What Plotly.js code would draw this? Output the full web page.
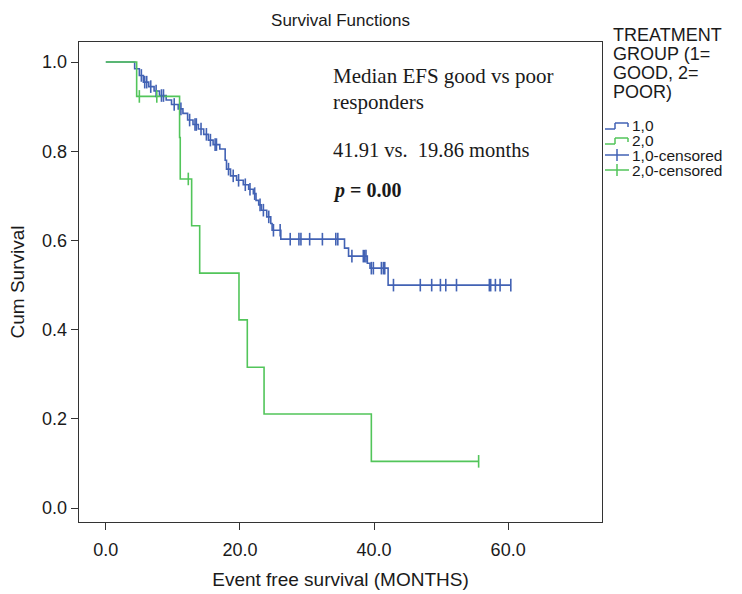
<!DOCTYPE html>
<html><head><meta charset="utf-8">
<script src="https://cdn.plot.ly/plotly-3.0.1.min.js"></script>
<style>html,body{margin:0;padding:0;background:#fff}#chart{width:742px;height:594px}</style>
</head><body><div id="chart"></div>
<script>
// Good responders (group 1,0): event step function
const goodTimes = [0, 4.3, 5.0, 5.6, 6.4, 7.2, 8.0, 9.0, 9.8, 10.8, 11.5, 12.2, 13.0, 13.8, 14.6, 15.3, 16.0, 17.0, 17.8, 18.0, 18.6, 19.5, 20.5, 21.3, 22.0, 22.4, 22.8, 23.2, 24.0, 24.6, 24.8, 26.1, 35.6, 36.2, 39.0, 39.4, 42.1, 60.4];
const goodSurv  = [1.0, 0.985, 0.970, 0.955, 0.945, 0.935, 0.925, 0.915, 0.905, 0.895, 0.885, 0.870, 0.860, 0.850, 0.838, 0.825, 0.815, 0.805, 0.780, 0.760, 0.745, 0.735, 0.725, 0.715, 0.705, 0.690, 0.680, 0.668, 0.653, 0.638, 0.623, 0.603, 0.583, 0.565, 0.549, 0.538, 0.500, 0.500];
const goodCensTimes = [5.3, 5.8, 6.1, 6.7, 7.5, 8.3, 8.6, 10.2, 11.2, 12.5, 13.3, 13.5, 14.2, 15.0, 15.6, 16.3, 16.5, 18.3, 19.0, 19.8, 20.8, 21.5, 22.2, 23.0, 23.5, 24.3, 25.0, 26.0, 27.5, 28.8, 29.1, 30.4, 32.3, 34.3, 34.6, 36.7, 38.4, 38.6, 38.8, 39.6, 39.9, 41.1, 41.4, 41.6, 42.9, 46.9, 48.6, 49.9, 50.7, 52.3, 57.2, 57.4, 58.1, 58.8, 60.4];
// Poor responders (group 2,0)
const poorTimes = [0, 4.6, 11.0, 11.1, 12.8, 14.0, 19.86, 21.1, 23.6, 39.6, 55.6];
const poorSurv  = [1.0, 0.923, 0.831, 0.738, 0.633, 0.527, 0.422, 0.316, 0.211, 0.105, 0.105];
const poorCensTimes = [5.0, 7.6, 12.3, 55.6];

const xTickVals = [0, 20, 40, 60];
const yTickVals = [0, 0.2, 0.4, 0.6, 0.8, 1.0];
const legendTitle = ['TREATMENT', 'GROUP (1=', 'GOOD, 2=', 'POOR)'];
const legendItems = ['1,0', '2,0', '1,0-censored', '2,0-censored'];

const blue = '#4262b4', green = '#52c55a';

function survAt(times, surv, t) {
  let s = surv[0];
  for (let i = 0; i < times.length; i++) { if (times[i] <= t) s = surv[i]; }
  return s;
}

const traces = [
  {x: goodTimes, y: goodSurv, mode: 'lines', line: {shape: 'hv', color: blue, width: 1.6}, name: legendItems[0], showlegend: false},
  {x: poorTimes, y: poorSurv, mode: 'lines', line: {shape: 'hv', color: green, width: 1.6}, name: legendItems[1], showlegend: false},
  {x: goodCensTimes, y: goodCensTimes.map(t => survAt(goodTimes, goodSurv, t)), mode: 'markers',
   marker: {symbol: 'line-ns', size: 9, line: {color: blue, width: 1.6}}, name: legendItems[2], showlegend: false},
  {x: poorCensTimes, y: poorCensTimes.map(t => survAt(poorTimes, poorSurv, t)), mode: 'markers',
   marker: {symbol: 'line-ns', size: 9, line: {color: green, width: 1.6}}, name: legendItems[3], showlegend: false}
];

const L = 79, R = 602, T = 42, B = 522;
const px = v => (v - L) / (R - L);
const py = v => (B - v) / (B - T);

const ann = [];
function txt(text, x, y, size, family) {
  ann.push({text: text, xref: 'paper', yref: 'paper', x: px(x), y: py(y), xanchor: 'left', yanchor: 'middle',
    showarrow: false, font: {family: family, size: size, color: '#1a1a1a'}});
}
const sans = 'Liberation Sans, Arial, sans-serif';
const serif = 'Liberation Serif, Times New Roman, serif';
const titleY = [35, 54, 73, 92];
legendTitle.forEach((s, i) => txt(s, 611, titleY[i], 18, sans));
const itemY = [125, 140, 155, 170];
legendItems.forEach((s, i) => txt(s, 630, itemY[i], 15.5, sans));

txt('Median EFS good vs poor', 331, 76, 21, serif);
txt('responders', 331, 102, 21, serif);
txt('41.91 vs.  19.86 months', 331, 150, 20.5, serif);
txt('<b><i>p</i> = 0.00</b>', 331, 190, 20, serif);

const shapes = [];
function seg(x0, y0, x1, y1, color) {
  shapes.push({type: 'line', xref: 'paper', yref: 'paper', x0: px(x0), y0: py(y0), x1: px(x1), y1: py(y1), line: {color: color, width: 1.5}});
}
// legend step icons
[[itemY[0], blue], [itemY[1], green]].forEach(([y, c]) => {
  seg(605, y + 4, 615, y + 4, c); seg(615, y + 4, 615, y - 2, c); seg(615, y - 2, 628, y - 2, c); seg(628, y - 2, 628, y + 2, c);
});
// legend cross icons
[[itemY[2], blue], [itemY[3], green]].forEach(([y, c]) => {
  seg(605, y, 629, y, c); seg(617, y - 6, 617, y + 6, c);
});

const axFont = {family: sans, size: 18, color: '#1a1a1a'};
const layout = {
  width: 742, height: 594,
  margin: {l: L, r: 742 - R, t: T, b: 594 - B},
  paper_bgcolor: '#fff', plot_bgcolor: '#fff',
  title: {text: 'Survival Functions', x: 0.5 * (L + R) / 742, xanchor: 'center', y: 1 - 20 / 594, yanchor: 'middle',
    font: {family: sans, size: 17, color: '#1a1a1a'}},
  xaxis: {range: [-4, 74], tickvals: xTickVals, tickformat: '.1f', ticks: 'outside', ticklen: 7, tickcolor: '#333',
    ticklabelstandoff: 4,
    showgrid: false, zeroline: false, showline: true, linecolor: '#333', linewidth: 1.3, mirror: true,
    tickfont: axFont,
    title: {text: 'Event free survival (MONTHS)', font: {family: sans, size: 19, color: '#1a1a1a'}, standoff: 13}},
  yaxis: {range: [-0.031, 1.045], tickvals: yTickVals, tickformat: '.1f', ticks: 'outside', ticklen: 7, tickcolor: '#333',
    showgrid: false, zeroline: false, showline: true, linecolor: '#333', linewidth: 1.3, mirror: true,
    tickfont: axFont,
    title: {text: 'Cum Survival', font: {family: sans, size: 19, color: '#1a1a1a'}, standoff: 12}},
  showlegend: false,
  annotations: ann,
  shapes: shapes
};
Plotly.newPlot('chart', traces, layout, {displayModeBar: false, staticPlot: true});
</script></body></html>
